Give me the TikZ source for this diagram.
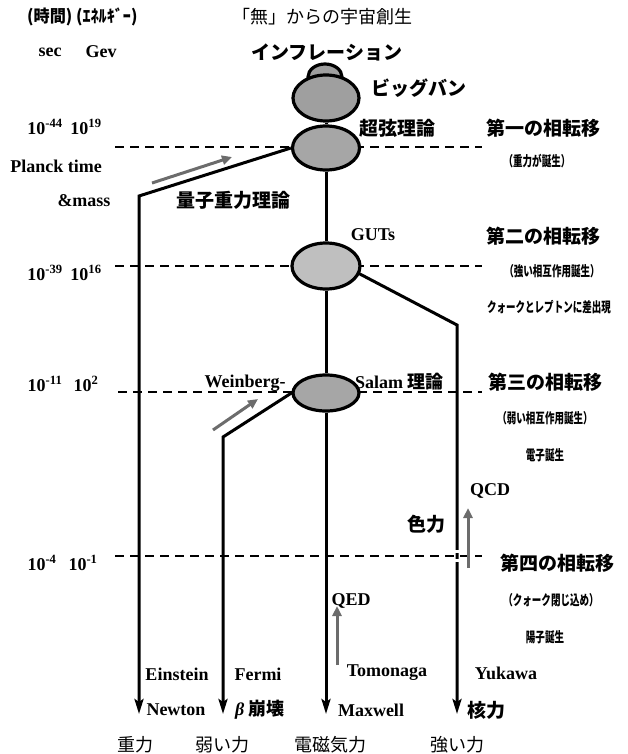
\documentclass[tikz,border=0pt]{standalone}
\usepackage{fontspec}
\setmainfont{Liberation Serif}
\newfontfamily\jp{Noto Sans CJK JP}
\usetikzlibrary{shapes.geometric,arrows.meta}
\newcommand{\condtxt}[2][0.68]{\scalebox{#1}[1]{#2}}
\tikzset{
  lat/.style={inner sep=0pt,font=\fontsize{18}{18}\selectfont\bfseries},
  jpb/.style={inner sep=0pt,font=\jp\fontsize{19}{19}\selectfont\bfseries},
  jpr/.style={inner sep=0pt,font=\jp\fontsize{18}{18}\selectfont},
  jps/.style={inner sep=0pt,font=\jp\fontsize{14}{14}\selectfont\bfseries},
  ell/.style={ellipse,draw=black,line width=3.2pt,inner sep=0pt},
  force/.style={line width=3pt,line join=miter},
  farrow/.style={force,-{Stealth[length=15pt,width=9pt,inset=3pt]}},
  garrow/.style={line width=3pt,draw=gray!85!black,-{Triangle[length=10pt,width=9pt]}},
  phase/.style={line width=2pt,dash pattern=on 9pt off 6pt},
}
\begin{document}
\begin{tikzpicture}[x=1pt,y=-1pt]
\useasboundingbox (0,0) rectangle (628,754);
% dashed phase lines
\draw[phase] (115,147) -- (482,147);
\draw[phase] (115,266) -- (482,266);
\draw[phase] (118,392) -- (482,392);
\draw[phase] (115,556) -- (482,556);
% ellipses
\node[ell,fill=gray!75,minimum width=34pt,minimum height=26pt] (cap) at (325,77) {};
\node[ell,fill=gray!75,minimum width=66pt,minimum height=46pt] (bb) at (326,98) {};
\node[ell,fill=gray!70,minimum width=67pt,minimum height=44pt] (ss) at (326,148) {};
\node[ell,fill=gray!50,minimum width=68pt,minimum height=46pt] (guts) at (326,266) {};
\node[ell,fill=gray!70,minimum width=66pt,minimum height=36pt] (ew) at (326,393) {};
% coordinates
\coordinate (g1) at (139,196);
\coordinate (g2) at (139,714);
\coordinate (w0) at (293,392);
\coordinate (w1) at (223,437);
\coordinate (w2) at (223,714);
\coordinate (e2) at (326,714);
\coordinate (s0) at (358,273);
\coordinate (s1) at (457,325);
\coordinate (s2) at (457,714);
% connectors
\draw[force] (bb.south) -- (ss.north);
\draw[force] (ss.south) -- (guts.north);
\draw[force] (guts.south) -- (ew.north);
\draw[farrow] (ew.south) -- (e2);
\draw[farrow] (ss.west) -- (g1) -- (g2);
\draw[farrow] (w0) -- (w1) -- (w2);
\draw[farrow] (s0) -- (s1) -- (s2);
% gap in strong line at fourth transition
\fill[white] (453,550) rectangle (461,553);
\fill[white] (453,559) rectangle (461,562);
% gray arrows
\coordinate (qa) at (152,183); \coordinate (qb) at (232,157);
\coordinate (wa) at (213,430); \coordinate (wb) at (258,399);
\coordinate (ea) at (337,665); \coordinate (eb) at (337,606);
\coordinate (ca) at (468,568); \coordinate (cb) at (468,508);
\draw[garrow] (qa) -- (qb);
\draw[garrow] (wa) -- (wb);
\draw[garrow] (ea) -- (eb);
\draw[garrow] (ca) -- (cb);
% header
\node[jpr] (title) at (322,17) {「無」からの宇宙創生};
\node[jps,anchor=west,font=\jp\fontsize{17}{17}\selectfont\bfseries] (units) at (27,17) {\condtxt[0.95]{(時間) (ｴﾈﾙｷﾞｰ)}};
\node[lat] (sec) at (50,52) {sec};
\node[lat] (gev) at (101,52) {Gev};
\node[jpb] (infl) at (327,52) {インフレーション};
\node[jpb] (bbl) at (419,88) {ビッグバン};
\node[jpb] (ssl) at (397,128) {超弦理論};
% left scale
\node[lat] (t1) at (45,127) {10\textsuperscript{-44}};
\node[lat] (m1) at (86,127) {10\textsuperscript{19}};
\node[lat] (planck) at (56,166) {Planck time};
\node[lat] (mass) at (84,201) {\&mass};
\node[jpb] (qg) at (233,200) {量子重力理論};
\node[lat] (t2) at (45,273) {10\textsuperscript{-39}};
\node[lat] (m2) at (86,273) {10\textsuperscript{16}};
\node[lat] (t3) at (45,384) {10\textsuperscript{-11}};
\node[lat] (m3) at (86,384) {10\textsuperscript{2}};
\node[lat] (t4) at (42,563) {10\textsuperscript{-4}};
\node[lat] (m4) at (83,563) {10\textsuperscript{-1}};
% middle labels
\node[lat] (gutsl) at (373,235) {GUTs};
\node[lat] (wein) at (245,383) {Weinberg-};
\node[lat,anchor=west] (salam) at (355,382) {Salam \jp 理論};
\node[lat] (qcd) at (490,491) {QCD};
\node[jpb] (iro) at (426,524) {色力};
\node[lat] (qed) at (351,601) {QED};
% right labels
\node[jpb] (p1) at (543,128) {第一の相転移};
\node[jps] (p1a) at (537,161) {\condtxt{（重力が誕生）}};
\node[jpb] (p2) at (543,236) {第二の相転移};
\node[jps] (p2a) at (552,271) {\condtxt{（強い相互作用誕生）}};
\node[jps] (p2b) at (549,307) {\condtxt{クォークとレプトンに差出現}};
\node[jpb] (p3) at (545,382) {第三の相転移};
\node[jps] (p3a) at (545,418) {\condtxt{（弱い相互作用誕生）}};
\node[jps] (p3b) at (545,455) {\condtxt{電子誕生}};
\node[jpb] (p4) at (557,563) {第四の相転移};
\node[jps] (p4a) at (551,600) {\condtxt{（クォーク閉じ込め）}};
\node[jps] (p4b) at (545,637) {\condtxt{陽子誕生}};
% bottom names
\node[lat] (ein) at (177,674) {Einstein};
\node[lat] (fer) at (258,674) {Fermi};
\node[lat] (tom) at (387,673) {Tomonaga};
\node[lat] (yuk) at (506,673) {Yukawa};
\node[lat] (new) at (176,710) {Newton};
\node[lat] (beta) at (260,710) {\itshape β\upshape\ \jp 崩壊};
\node[lat] (max) at (371,710) {Maxwell};
\node[jpb] (kaku) at (486,710) {核力};
\node[jpr] (f1) at (135,745) {重力};
\node[jpr] (f2) at (222,745) {弱い力};
\node[jpr] (f3) at (330,745) {電磁気力};
\node[jpr] (f4) at (457,745) {強い力};
\end{tikzpicture}
\end{document}
